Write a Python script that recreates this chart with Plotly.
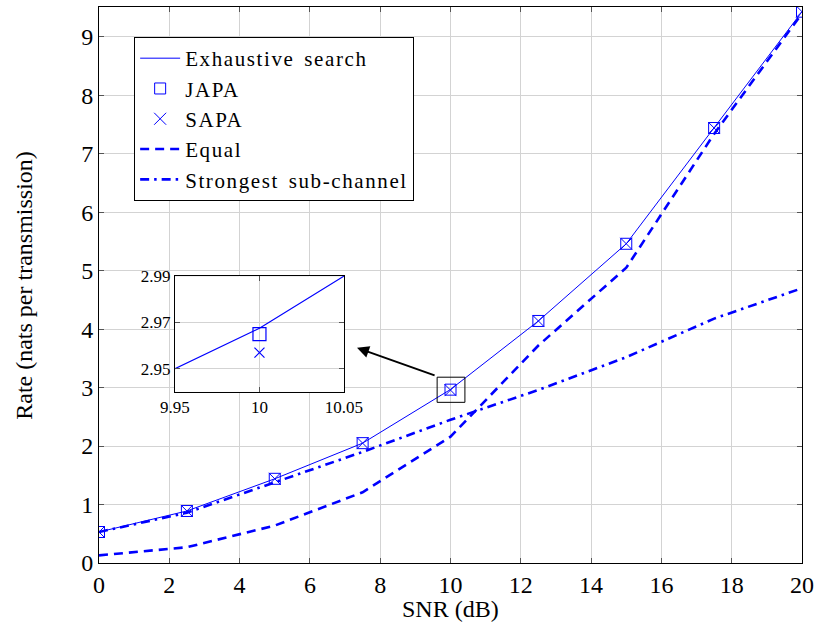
import plotly.graph_objects as go

snr = [0, 2.5, 5, 7.5, 10, 12.5, 15, 17.5, 20]
exhaustive = [0.53, 0.89, 1.44, 2.05, 2.968, 4.14, 5.46, 7.44, 9.43]
japa = [0.53, 0.89, 1.44, 2.05, 2.965, 4.14, 5.46, 7.44, 9.43]
sapa = [0.53, 0.89, 1.44, 2.05, 2.957, 4.14, 5.46, 7.44, 9.43]
equal = [0.13, 0.27, 0.64, 1.21, 2.16, 3.72, 5.05, 7.34, 9.40]
strongest = [0.53, 0.86, 1.38, 1.90, 2.45, 2.96, 3.52, 4.18, 4.70]
names = ["Exhaustive search", "JAPA", "SAPA", "Equal", "Strongest sub-channel"]

# inset (zoom around SNR = 10 dB)
inset_x = [9.95, 10, 10.05]
inset_exh = [2.950, 2.9675, 2.990]
inset_japa_x = [10]
inset_japa = [2.965]
inset_sapa_x = [10]
inset_sapa = [2.957]

BLUE = "rgb(0,0,255)"
FONT = "Liberation Serif"
GRID = "#d3d3d3"


def lg(s):
    return '<span style="letter-spacing:1.6px;word-spacing:3px">' + s + '</span>'


fig = go.Figure()
fig.add_trace(go.Scatter(x=snr, y=exhaustive, mode="lines", name=lg(names[0]),
                         line=dict(color=BLUE, width=1)))
fig.add_trace(go.Scatter(x=snr, y=japa, mode="markers", name=lg(names[1]),
                         marker=dict(symbol="square-open", size=11, color=BLUE, line=dict(width=1))))
fig.add_trace(go.Scatter(x=snr, y=sapa, mode="markers", name=lg(names[2]),
                         marker=dict(symbol="x-thin-open", size=12, color=BLUE, line=dict(width=1, color=BLUE))))
fig.add_trace(go.Scatter(x=snr, y=equal, mode="lines", name=lg(names[3]),
                         line=dict(color=BLUE, width=2.6, dash="9px,6px")))
fig.add_trace(go.Scatter(x=snr, y=strongest, mode="lines", name=lg(names[4]),
                         line=dict(color=BLUE, width=2.6, dash="9px,5px,2.5px,5px")))

# inset traces
fig.add_trace(go.Scatter(x=inset_x, y=inset_exh, mode="lines", showlegend=False,
                         line=dict(color=BLUE, width=1.2), xaxis="x2", yaxis="y2"))
fig.add_trace(go.Scatter(x=inset_japa_x, y=inset_japa, mode="markers", showlegend=False,
                         marker=dict(symbol="square-open", size=13, color=BLUE, line=dict(width=1.2)),
                         xaxis="x2", yaxis="y2"))
fig.add_trace(go.Scatter(x=inset_sapa_x, y=inset_sapa, mode="markers", showlegend=False,
                         marker=dict(symbol="x-thin-open", size=10, color=BLUE, line=dict(width=1.2, color=BLUE)),
                         xaxis="x2", yaxis="y2"))

axis_common = dict(showline=True, linecolor="black", linewidth=1, mirror="ticks",
                   ticks="inside", ticklen=5, tickcolor="#555", showgrid=True,
                   gridcolor=GRID, gridwidth=1, zeroline=False, automargin=False)

fig.update_layout(
    width=816, height=624,
    margin=dict(l=99, r=14, t=7, b=61),
    plot_bgcolor="white", paper_bgcolor="white",
    font=dict(family=FONT, size=25, color="black"),
    xaxis=dict(range=[0, 20], tickmode="linear", tick0=0, dtick=2,
               tickfont=dict(size=24), domain=[0, 1], **axis_common),
    yaxis=dict(range=[0, 9.51], tickmode="linear", tick0=0, dtick=1,
               tickfont=dict(size=24), domain=[0, 1], **axis_common),
    xaxis2=dict(range=[9.95, 10.05], tickvals=[9.95, 10, 10.05], ticktext=["9.95", "10", "10.05"],
                domain=[0.108, 0.3485], anchor="y2", tickfont=dict(size=17), **axis_common),
    yaxis2=dict(range=[2.94, 2.99], tickvals=[2.95, 2.97, 2.99], ticktext=["2.95", "2.97", "2.99"],
                domain=[0.3076, 0.516], anchor="x2", tickfont=dict(size=17), **axis_common),
    legend=dict(x=0.05, y=0.946, xanchor="left", yanchor="top",
                bgcolor="white", bordercolor="black", borderwidth=1,
                font=dict(family=FONT, size=21), tracegroupgap=0, itemwidth=40),
    showlegend=True,
)

# axis titles
fig.add_annotation(text="SNR (dB)", xref="paper", yref="paper", x=0.5, y=-0.082,
                   xanchor="center", yanchor="middle", showarrow=False, font=dict(size=24))
fig.add_annotation(text="Rate (nats per transmission)", xref="paper", yref="paper", x=-0.107, y=0.5,
                   xanchor="center", yanchor="middle", textangle=-90, showarrow=False, font=dict(size=24))

# white background for the inset
fig.add_shape(type="rect", xref="x2 domain", yref="y2 domain", x0=0, x1=1, y0=0, y1=1,
              fillcolor="white", line=dict(color="black", width=1), layer="below")

# zoom window around SNR = 10 dB
zx, zy = 10, 2.968
fig.add_shape(type="rect", xref="x", yref="y", x0=zx - 0.38, x1=zx + 0.41, y0=zy - 0.22, y1=zy + 0.21,
              line=dict(color="black", width=1))

fig.add_annotation(x=7.34, y=3.68, ax=9.59, ay=3.2, xref="x", yref="y", axref="x", ayref="y",
                   text="", showarrow=True, arrowhead=2, arrowsize=1.2, arrowwidth=2, arrowcolor="black")

fig.write_html("out.html", config={"displayModeBar": False},
               post_script="document.body.style.margin='0';document.body.style.overflow='hidden';")
